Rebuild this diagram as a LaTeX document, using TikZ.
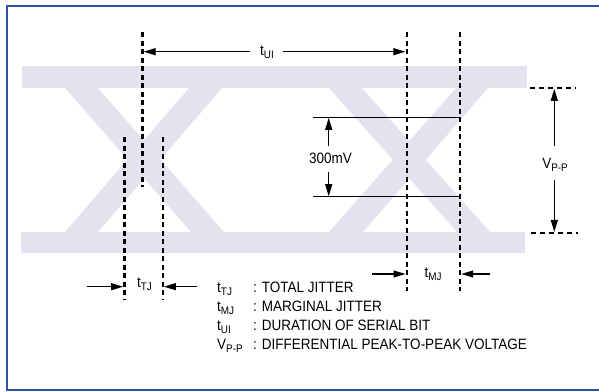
\documentclass[tikz,border=0pt]{standalone}
\usepackage{fontspec}
\setmainfont[FakeStretch=0.9]{Liberation Sans}
\usetikzlibrary{arrows.meta}
\definecolor{eye}{RGB}{227,227,239}
\definecolor{framecol}{RGB}{44,84,160}
\newcommand\lsub[1]{\raisebox{-3.3pt}{\fontsize{11}{12}\selectfont #1}}
\begin{document}
\begin{tikzpicture}[x=1pt,y=-1pt,font=\fontsize{15}{18}\selectfont,
  vdash/.style={line width=2.4pt,dash pattern=on 5pt off 3.5pt},
  hdash/.style={line width=2.2pt,dash pattern=on 5pt off 4pt},
  arr/.style={line width=1.1pt,-{Triangle[length=12pt,width=7pt]}},
  lbl/.style={inner sep=0pt},
  solid1/.style={line width=1pt}]
\useasboundingbox (0,0) rectangle (599,391);
% eye diagram
\fill[eye] (22,66) rectangle (527,88);
\fill[eye] (21,232) rectangle (525,253);
\fill[eye] (65,88) -- (98,88) -- (224,232) -- (191,232) -- cycle;
\fill[eye] (189,88) -- (222,88) -- (98,232) -- (65,232) -- cycle;
\fill[eye] (329,88) -- (362,88) -- (490,232) -- (457,232) -- cycle;
\fill[eye] (456,88) -- (488,88) -- (363,232) -- (329,232) -- cycle;
% frame
\draw[framecol,line width=2.5pt] (7.2,6.2) rectangle (615,389.8);
% 300mV lines
\coordinate (h1a) at (313,117.3); \coordinate (h1b) at (460,117.3);
\coordinate (h2a) at (313,196.7); \coordinate (h2b) at (460,196.7);
\draw[solid1] (h1a) -- (h1b);
\draw[solid1] (h2a) -- (h2b);
% dashed verticals
\coordinate (uiLt) at (142.3,32); \coordinate (uiLb) at (142.3,187);
\coordinate (uiRt) at (406.7,32); \coordinate (uiRb) at (406.7,290.7);
\coordinate (mjRt) at (460,32); \coordinate (mjRb) at (460,290.7);
\coordinate (tjLt) at (124.3,137); \coordinate (tjLb) at (124.3,299);
\coordinate (tjRt) at (162.7,137); \coordinate (tjRb) at (162.7,299);
\draw[vdash] (uiLt) -- (uiLb);
\draw[vdash] (uiRt) -- (uiRb);
\draw[vdash] (mjRt) -- (mjRb);
\draw[vdash] (tjLt) -- (tjLb);
\draw[vdash] (tjRt) -- (tjRb);
% Vp-p dashed horizontals
\coordinate (vtA) at (530,87.7); \coordinate (vtB) at (576,87.7);
\coordinate (vbA) at (531,233); \coordinate (vbB) at (578,233);
\draw[hdash] (vtA) -- (vtB);
\draw[hdash] (vbA) -- (vbB);
% t_UI
\node[lbl,anchor=base] (tui) at (267,55) {t\lsub{UI}};
\coordinate (uiA) at (250,51.7); \coordinate (uiB) at (283,51.7);
\coordinate (uiL) at (143.6,51.7); \coordinate (uiR) at (405.4,51.7);
\draw[arr] (uiA) -- (uiL);
\draw[arr] (uiB) -- (uiR);
% 300mV
\node[lbl,anchor=base] (mv) at (330.5,163.3) {300mV};
\coordinate (mvA) at (328.7,145.7); \coordinate (mvT) at (328.7,117.8);
\coordinate (mvB) at (328.7,171.7); \coordinate (mvD) at (328.7,196.2);
\draw[arr] (mvA) -- (mvT);
\draw[arr] (mvB) -- (mvD);
% Vp-p
\node[lbl,anchor=base] (vpp) at (555,168.3) {V\lsub{P-P}};
\coordinate (vpA) at (554.3,145.7); \coordinate (vpT) at (554.3,88.8);
\coordinate (vpB) at (554.3,180); \coordinate (vpD) at (554.3,231.9);
\draw[arr] (vpA) -- (vpT);
\draw[arr] (vpB) -- (vpD);
% t_TJ
\node[lbl,anchor=base] (ttj) at (144.5,287.5) {t\lsub{TJ}};
\coordinate (tjA) at (87,286.7); \coordinate (tjTa) at (123.1,286.7);
\coordinate (tjB) at (197,286.7); \coordinate (tjTb) at (163.9,286.7);
\draw[arr] (tjA) -- (tjTa);
\draw[arr] (tjB) -- (tjTb);
% t_MJ
\node[lbl,anchor=base] (tmj) at (433,277) {t\lsub{MJ}};
\coordinate (mjA) at (372,274); \coordinate (mjTa) at (405.5,274);
\coordinate (mjB) at (490,274); \coordinate (mjTb) at (461.2,274);
\draw[arr] (mjA) -- (mjTa);
\draw[arr] (mjB) -- (mjTb);
% legend
\node[lbl,anchor=base west] (s1) at (217,292.5) {t\lsub{TJ}};
\node[lbl,anchor=base west] (d1) at (253,292.5) {: TOTAL JITTER};
\node[lbl,anchor=base west] (s2) at (217,311.2) {t\lsub{MJ}};
\node[lbl,anchor=base west] (d2) at (253,311.2) {: MARGINAL JITTER};
\node[lbl,anchor=base west] (s3) at (217,330.3) {t\lsub{UI}};
\node[lbl,anchor=base west] (d3) at (253,330.3) {: DURATION OF SERIAL BIT};
\node[lbl,anchor=base west] (s4) at (217,349.3) {V\lsub{P-P}};
\node[lbl,anchor=base west] (d4) at (253,349.3) {: DIFFERENTIAL PEAK-TO-PEAK VOLTAGE};
\end{tikzpicture}
\end{document}
